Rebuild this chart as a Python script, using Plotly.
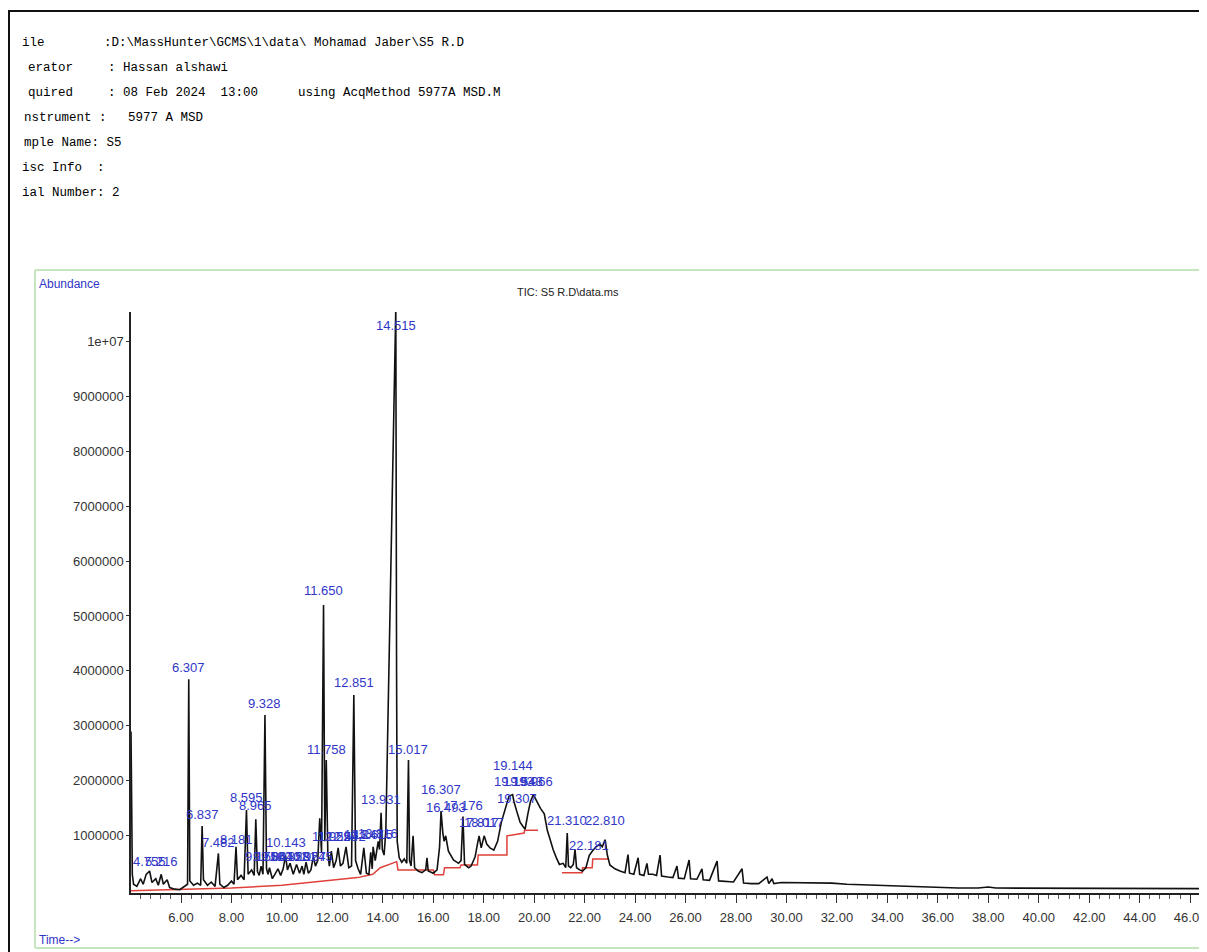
import numpy as np
import plotly.graph_objects as go

# ---------------- data ----------------
header_keys = ["ile", "erator", "quired", "nstrument :", "mple Name: S5", "isc Info  :", "ial Number: 2"]
header_vals = [":D:\\MassHunter\\GCMS\\1\\data\\ Mohamad Jaber\\S5 R.D",
               ": Hassan alshawi",
               ": 08 Feb 2024  13:00",
               "5977 A MSD", "", "", ""]
acq_method = "using AcqMethod 5977A MSD.M"
chart_title = "TIC: S5 R.D\\data.ms"

# retention time (min) and abundance (millions of counts) of the TIC trace
rt_min = [4.018, 4.04, 4.07, 4.12, 4.25, 4.40, 4.50, 4.62, 4.755, 4.85, 5.00, 5.10, 5.216, 5.30, 5.45,
          5.55, 5.75, 5.95, 6.15, 6.26, 6.307, 6.35, 6.50, 6.65, 6.78, 6.837, 6.89, 7.05, 7.20, 7.35,
          7.482, 7.54, 7.70, 7.85, 8.00, 8.10, 8.181, 8.24, 8.38, 8.50, 8.595, 8.66, 8.80, 8.90, 8.965,
          9.03, 9.10, 9.175, 9.25, 9.328, 9.39, 9.45, 9.506, 9.62, 9.72, 9.844, 9.95, 10.05, 10.143,
          10.22, 10.323, 10.45, 10.581, 10.70, 10.80, 10.87, 10.957, 11.05, 11.15, 11.245, 11.33, 11.42,
          11.50, 11.57, 11.650, 11.70, 11.758, 11.82, 11.88, 11.959, 12.05, 12.15, 12.229, 12.32, 12.42,
          12.542, 12.65, 12.76, 12.851, 12.92, 13.02, 13.12, 13.247, 13.35, 13.45, 13.52, 13.58, 13.615,
          13.70, 13.816, 13.87, 13.931, 13.98, 14.05, 14.12, 14.22, 14.33, 14.45, 14.515, 14.545, 14.57,
          14.65, 14.75, 14.85, 14.95, 15.017, 15.06, 15.12, 15.20, 15.26, 15.40, 15.55, 15.70, 15.75,
          15.80, 16.00, 16.15, 16.25, 16.307, 16.38, 16.43, 16.493, 16.60, 16.80, 17.00, 17.10, 17.176,
          17.24, 17.40, 17.50, 17.66, 17.75, 17.817, 17.90, 18.017, 18.12, 18.25, 18.40, 18.55, 18.70,
          18.85, 19.00, 19.144, 19.20, 19.307, 19.44, 19.543, 19.64, 19.75, 19.85, 19.966, 20.10, 20.25,
          20.40, 20.52, 20.62, 20.75, 20.88, 21.00, 21.15, 21.25, 21.310, 21.36, 21.45, 21.55, 21.62,
          21.68, 21.80, 21.92, 22.05, 22.181, 22.30, 22.45, 22.60, 22.70, 22.810, 22.90, 23.00, 23.20,
          23.40, 23.60, 23.72, 23.78, 23.95, 24.12, 24.18, 24.35, 24.47, 24.53, 24.70, 24.85, 24.99,
          25.05, 25.30, 25.50, 25.66, 25.72, 25.95, 26.14, 26.20, 26.45, 26.65, 26.70, 26.95, 27.25,
          27.31, 27.60, 27.90, 28.24, 28.30, 28.60, 28.90, 29.23, 29.30, 29.43, 29.50, 29.80, 30.20,
          30.60, 31.20, 31.80, 32.40, 33.00, 33.60, 34.40, 35.20, 36.00, 36.80, 37.60, 38.00, 38.30,
          39.00, 40.00, 42.00, 44.00, 46.67]
abund_m = [2.90, 1.20, 0.30, 0.12, 0.08, 0.22, 0.12, 0.30, 0.36, 0.15, 0.22, 0.10, 0.30, 0.12, 0.20,
           0.06, 0.03, 0.02, 0.08, 0.12, 3.85, 0.18, 0.10, 0.14, 0.10, 1.18, 0.20, 0.10, 0.16, 0.08,
           0.68, 0.12, 0.06, 0.10, 0.18, 0.12, 0.80, 0.20, 0.28, 0.20, 1.47, 0.30, 0.38, 0.28, 1.30,
           0.35, 0.28, 0.45, 0.30, 3.20, 0.40, 0.30, 0.42, 0.22, 0.30, 0.40, 0.28, 0.40, 0.64,
           0.38, 0.50, 0.30, 0.48, 0.32, 0.45, 0.30, 0.52, 0.32, 0.38, 0.62, 0.45, 0.55,
           1.32, 0.70, 5.20, 0.90, 2.38, 0.70, 0.45, 0.72, 0.42, 0.55, 0.78, 0.45, 0.50,
           0.80, 0.42, 0.45, 3.56, 0.55, 0.40, 0.30, 0.78, 0.32, 0.30, 0.70, 0.40, 0.80,
           0.55, 0.90, 0.75, 1.42, 0.75, 0.65, 1.10, 3.50, 6.50, 9.20, 10.60, 4.00, 0.90,
           0.60, 0.52, 0.58, 0.50, 2.38, 0.55, 0.45, 1.00, 0.42, 0.36, 0.33, 0.38, 0.60,
           0.36, 0.32, 0.38, 0.80, 1.45, 1.05, 0.90, 1.00, 0.72, 0.56, 0.50, 0.55, 1.35,
           0.48, 0.42, 0.45, 0.62, 0.85, 1.00, 0.78, 1.00, 0.85, 0.78, 0.74, 0.90, 1.25,
           1.50, 1.72, 1.75, 1.62, 1.45, 1.25, 1.18, 1.12, 1.40, 1.62, 1.75, 1.62, 1.50,
           1.40, 1.10, 0.95, 0.75, 0.60, 0.48, 0.50, 0.42, 1.05, 0.45, 0.42, 0.48, 0.75,
           0.42, 0.38, 0.36, 0.42, 0.64, 0.72, 0.80, 0.85, 0.80, 0.93, 0.65, 0.47, 0.40,
           0.36, 0.33, 0.66, 0.32, 0.30, 0.60, 0.30, 0.28, 0.50, 0.30, 0.30, 0.28, 0.65,
           0.27, 0.25, 0.24, 0.45, 0.23, 0.22, 0.56, 0.22, 0.21, 0.40, 0.20, 0.19, 0.54,
           0.18, 0.17, 0.16, 0.40, 0.14, 0.13, 0.13, 0.25, 0.13, 0.22, 0.13, 0.15, 0.15,
           0.15, 0.14, 0.14, 0.12, 0.11, 0.10, 0.08, 0.07, 0.06, 0.05, 0.05, 0.07, 0.05,
           0.05, 0.05, 0.045, 0.04, 0.04]

# integration baseline (red), None breaks the line
base_rt = [4.018, 6.0, 8.0, 10.0, 11.2, 12.0, 13.0, 13.6, 13.9, 14.55, 14.6, 16.0, 16.05, 16.4, 16.45,
           17.06, 17.1, 17.75, 17.78, 18.92, 18.92, 19.6, 19.62, 20.15, None, 21.1, 21.9, 21.92,
           22.3, 22.32, 22.95]
base_m = [0.0, 0.02, 0.05, 0.10, 0.16, 0.20, 0.24, 0.30, 0.42, 0.53, 0.38, 0.38, 0.29, 0.29, 0.42,
          0.42, 0.47, 0.47, 0.65, 0.65, 1.00, 1.05, 1.10, 1.10, None, 0.33, 0.33, 0.42,
          0.42, 0.58, 0.58]

# peak labels (retention time text) and the abundance (millions) at which each is written
peak_labels = ["4.755", "5.216", "6.307", "6.837", "7.482", "8.181", "8.595", "8.965", "9.328",
               "9.175", "9.506", "9.844", "10.143", "10.323", "10.581", "10.957", "11.245",
               "11.650", "11.758", "11.959", "12.229", "12.542", "12.851", "13.247", "13.615",
               "13.816", "13.931", "14.515", "15.017", "16.307", "16.493", "17.176", "17.817",
               "18.017", "19.144", "19.193", "19.543", "19.966", "19.307", "21.310", "22.181",
               "22.810"]
peak_label_m = [0.29, 0.29, 3.82, 1.15, 0.65, 0.69, 1.47, 1.31, 3.18,
                0.38, 0.38, 0.38, 0.64, 0.38, 0.38, 0.38, 0.38,
                5.22, 2.33, 0.76, 0.76, 0.76, 3.56, 0.78, 0.78,
                0.80, 1.42, 10.05, 2.33, 1.60, 1.27, 1.31, 1.00,
                1.00, 2.05, 1.75, 1.75, 1.75, 1.45, 1.05, 0.58,
                1.05]

ytick_vals_m = [1, 2, 3, 4, 5, 6, 7, 8, 9, 10]
ytick_text = ["1000000", "2000000", "3000000", "4000000", "5000000", "6000000", "7000000",
              "8000000", "9000000", "1e+07"]
xtick_vals = [6, 8, 10, 12, 14, 16, 18, 20, 22, 24, 26, 28, 30, 32, 34, 36, 38, 40, 42, 44, 46]
xtick_text = ["%.2f" % v for v in xtick_vals]

# ---------------- layout helpers ----------------
# the page body has an 8 px margin, so the figure is drawn 8 px smaller and all
# screen positions below are given in window pixels.
OFF = 8
W, H = 1207 - OFF, 952 - OFF
PL, PR, PT, PB = 131, 1207, 312, 893  # plot area in window pixels


def px(x):
    return (x - PL) / (PR - PL)


def py(y):
    return (PB - y) / (PB - PT)


SANS = "Liberation Sans, Arial, sans-serif"
MONO = "Liberation Mono, DejaVu Sans Mono, monospace"
BLUE = "#2f36c8"

M = 1e6
fig = go.Figure()
fig.add_trace(go.Scatter(x=base_rt, y=[None if v is None else v * M for v in base_m],
                         mode="lines", line=dict(color="#e0403a", width=1.5),
                         connectgaps=False, hoverinfo="skip", showlegend=False))
fig.add_trace(go.Scatter(x=rt_min, y=[v * M for v in abund_m], mode="lines",
                         line=dict(color="#111111", width=1.6), showlegend=False))

annotations = []
for lab, h in zip(peak_labels, peak_label_m):
    annotations.append(dict(x=float(lab), y=h * M, xref="x", yref="y", text=lab,
                            showarrow=False, yshift=13, xanchor="center", yanchor="middle",
                            font=dict(family=SANS, size=13, color=BLUE)))

# header block
header_y = [43, 68, 93, 118, 143, 168, 193]
key_x = [20, 26, 26, 22, 22, 20, 20]
val_x = [102, 106, 106, 126, 0, 0, 0]
HFONT = dict(family=MONO, size=12.5, color="#000000")
for k, v, yy, kx, vx in zip(header_keys, header_vals, header_y, key_x, val_x):
    annotations.append(dict(x=px(kx), y=py(yy), xref="paper", yref="paper", text=k,
                            showarrow=False, xanchor="left", yanchor="middle", font=HFONT))
    if v:
        annotations.append(dict(x=px(vx), y=py(yy), xref="paper", yref="paper", text=v,
                                showarrow=False, xanchor="left", yanchor="middle", font=HFONT))
annotations.append(dict(x=px(296), y=py(header_y[2]), xref="paper", yref="paper", text=acq_method,
                        showarrow=False, xanchor="left", yanchor="middle", font=HFONT))

annotations.append(dict(x=px(37), y=py(284), xref="paper", yref="paper", text="Abundance",
                        showarrow=False, xanchor="left", yanchor="middle",
                        font=dict(family=SANS, size=12, color=BLUE)))
annotations.append(dict(x=px(37), y=py(940), xref="paper", yref="paper", text="Time-->",
                        showarrow=False, xanchor="left", yanchor="middle",
                        font=dict(family=SANS, size=12, color=BLUE)))
annotations.append(dict(x=px(568), y=py(292), xref="paper", yref="paper", text=chart_title,
                        showarrow=False, xanchor="center", yanchor="middle",
                        font=dict(family=SANS, size=11, color="#222222")))

GREEN = "#c6e6bf"
shapes = [
    # outer black window border
    dict(type="line", xref="paper", yref="paper", x0=px(8), x1=px(1207), y0=py(11), y1=py(11),
         line=dict(color="#111111", width=2)),
    dict(type="line", xref="paper", yref="paper", x0=px(9), x1=px(9), y0=py(11), y1=py(952),
         line=dict(color="#111111", width=2)),
    # light green chart frame
    dict(type="line", xref="paper", yref="paper", x0=px(35), x1=px(1207), y0=py(270), y1=py(270),
         line=dict(color=GREEN, width=2)),
    dict(type="line", xref="paper", yref="paper", x0=px(35), x1=px(35), y0=py(270), y1=py(948),
         line=dict(color=GREEN, width=2)),
    dict(type="line", xref="paper", yref="paper", x0=px(35), x1=px(1207), y0=py(948), y1=py(948),
         line=dict(color=GREEN, width=2)),
]

fig.update_layout(
    width=W, height=H, autosize=False,
    margin=dict(l=PL - OFF, r=1207 - PR, t=PT - OFF, b=952 - PB, pad=0),
    paper_bgcolor="white", plot_bgcolor="white",
    showlegend=False, annotations=annotations, shapes=shapes,
    xaxis=dict(range=[4.018, 46.67], showgrid=False, zeroline=False,
               showline=True, linecolor="#222222", linewidth=1.5,
               tickmode="array", tickvals=xtick_vals, ticktext=xtick_text,
               ticks="outside", ticklen=8, tickwidth=1.3, tickcolor="#333333",
               minor=dict(dtick=0.4, tick0=0, ticks="outside", ticklen=4, tickwidth=1,
                          tickcolor="#555555"),
               ticklabelstandoff=4,
               tickfont=dict(family=SANS, size=13, color="#333333")),
    yaxis=dict(range=[-0.04 * M, 10.53 * M], showgrid=False, zeroline=False,
               showline=True, linecolor="#222222", linewidth=1.5,
               tickmode="array", tickvals=[v * M for v in ytick_vals_m], ticktext=ytick_text,
               ticks="outside", ticklen=3, tickwidth=1.2, tickcolor="#333333",
               tickfont=dict(family=SANS, size=13, color="#333333")),
)

fig.write_html("out.html")
